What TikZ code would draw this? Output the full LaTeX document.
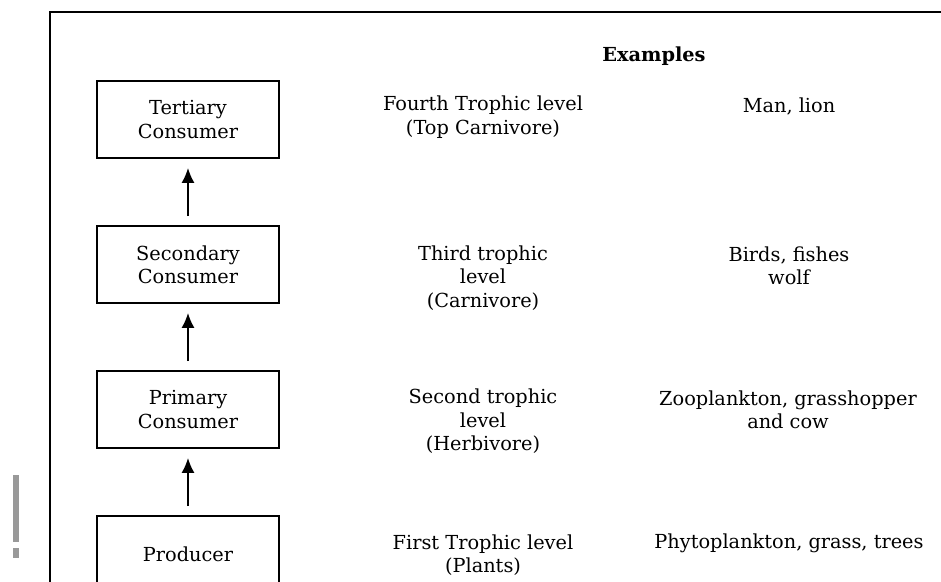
\documentclass[tikz,border=0pt]{standalone}
\usepackage{fontspec}
\setmainfont{DejaVu Serif}
\usetikzlibrary{arrows.meta}

\begin{document}
\begin{tikzpicture}[x=0.02cm,y=-0.02cm,
    font=\fontsize{11}{13.3}\selectfont,
    level/.style={draw,line width=1pt,minimum width=3.64cm,minimum height=1.54cm,align=center},
    txt/.style={align=center},
    up/.style={-{Latex[length=0.3cm,width=0.26cm]},line width=1pt,shorten <=0.18cm,shorten >=0.18cm}]
    \clip (0,0) rectangle (941,582);
    % frame round the figure
    \draw[line width=0.8pt] (50,620) -- (50,12) -- (990,12);
    \fill[black!40] (13,475) rectangle (19,542);
    \fill[black!40] (13,548) rectangle (19,558);
    % the chain
    \node[level] (tert) at (188,119.5) {Tertiary\\Consumer};
    \node[level] (sec) at (188,264.5) {Secondary\\Consumer};
    \node[level] (prim) at (188,409.5) {Primary\\Consumer};
    \node[level] (prod) at (188,554.5) {Producer};
    \draw[up] (prod) -- (prim);
    \draw[up] (prim) -- (sec);
    \draw[up] (sec) -- (tert);
    % trophic levels
    \node[txt] (lvfour) at (483,117) {Fourth Trophic level\\(Top Carnivore)};
    \node[txt] (lvthree) at (483,278) {Third trophic\\level\\(Carnivore)};
    \node[txt] (lvtwo) at (483,421.5) {Second trophic\\level\\(Herbivore)};
    \node[txt] (lvone) at (483,555) {First Trophic level\\(Plants)};
    % examples
    \node (head) at (654,56) {\bfseries Examples};
    \node[txt] (exfour) at (789,106) {Man, lion};
    \node[txt] (exthree) at (789,266) {Birds, fishes\\wolf};
    \node[txt] (extwo) at (788,410) {Zooplankton, grasshopper\\and cow};
    \node[txt] (exone) at (789,543) {Phytoplankton, grass, trees};
\end{tikzpicture}
\end{document}
